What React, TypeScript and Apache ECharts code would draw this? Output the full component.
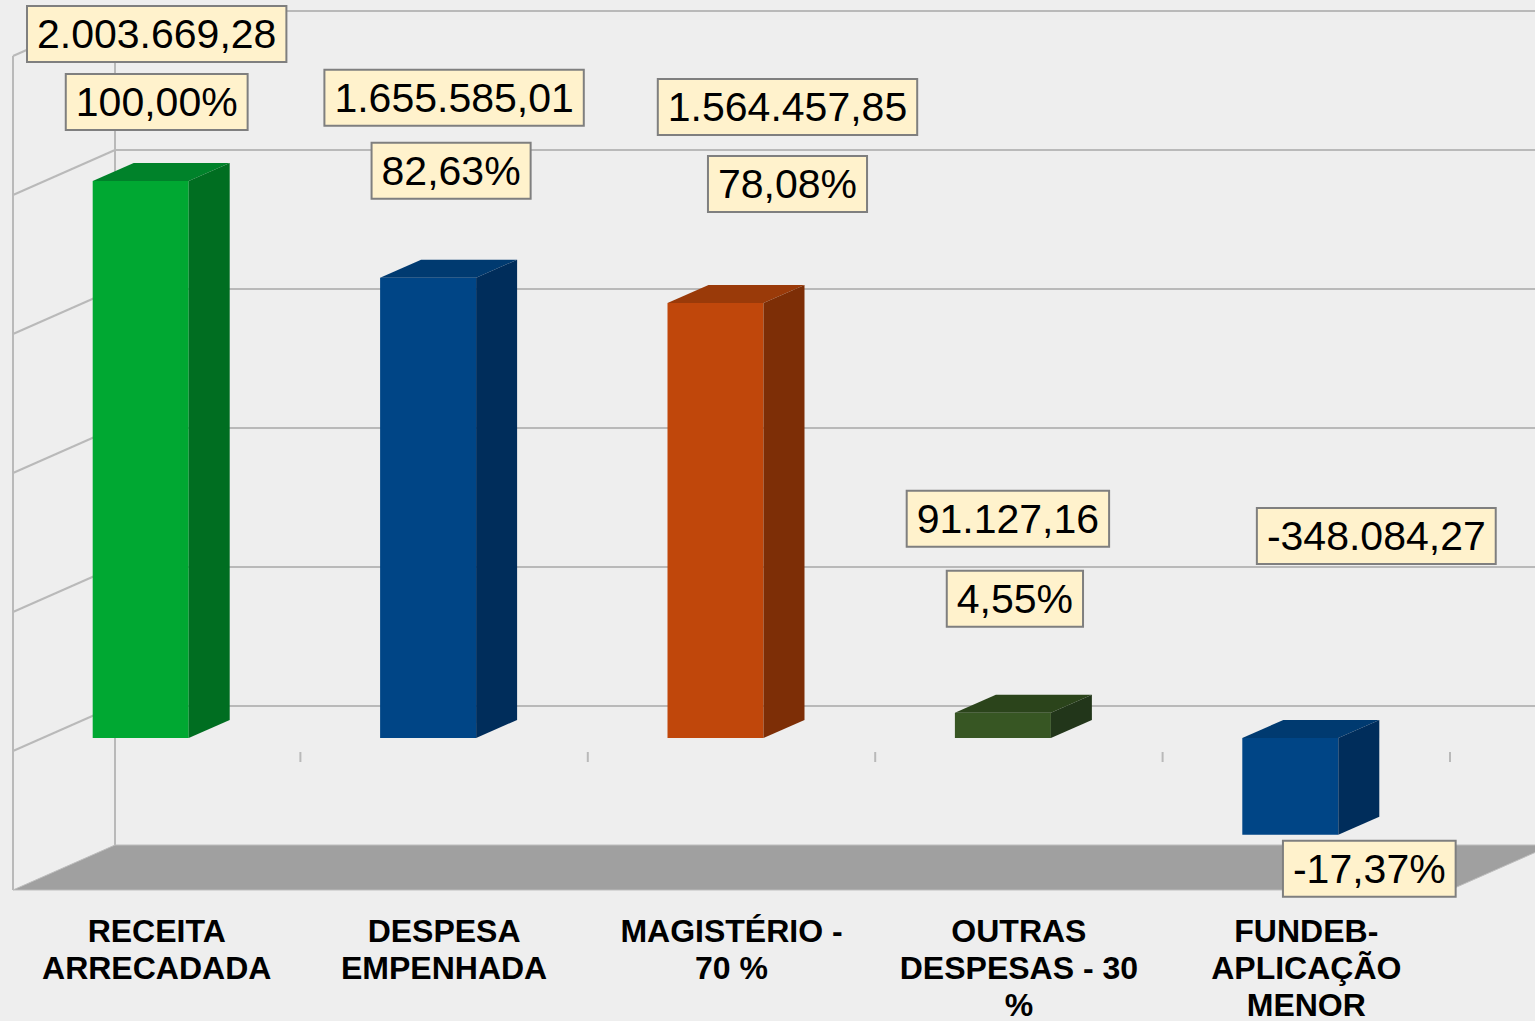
import { useEffect, useRef } from "react";
import * as echarts from "echarts";

// ---- data ----
const CATEGORIES = [
  "RECEITA\nARRECADADA",
  "DESPESA\nEMPENHADA",
  "MAGISTÉRIO -\n70 %",
  "OUTRAS\nDESPESAS - 30\n%",
  "FUNDEB-\nAPLICAÇÃO\nMENOR",
];
const VALUES = [2003669.28, 1655585.01, 1564457.85, 91127.16, -348084.27];
const PERCENTS = [100.0, 82.63, 78.08, 4.55, -17.37];
const Y_MIN = -500000;
const Y_MAX = 2500000;
const Y_STEP = 500000;

// ---- styles / layout ----
const FRONT_COLORS = ["#00a832", "#004586", "#c0470b", "#375623", "#004586"];
const TOP_COLORS = ["#00822a", "#003a70", "#9a3a09", "#2b441b", "#003a70"];
const SIDE_COLORS = ["#006e21", "#002d5b", "#7d2e06", "#22361a", "#002d5b"];
const BAR_W = 96;
const BAR_SHIFT_X = -16;
const BAR_SHIFT_Y = -13;
const BAR_DEPTH_X = 41;
const BAR_DEPTH_Y = -18;
const WALL_DX = 102;
const WALL_DY = -45;
// label box centre offsets (px) from bar front face centre / top (or bottom for negative pct)
const VALUE_LABEL_OFFSET = [
  [16, -147],
  [26, -180],
  [72, -196],
  [5, -194],
  [86, -202],
];
const PCT_LABEL_OFFSET = [
  [16, -79],
  [23, -107],
  [72, -119],
  [12, -114],
  [79, 34],
];

function fmtBR(v: number, d: number): string {
  const neg = v < 0;
  const s = Math.abs(v).toFixed(d);
  const [intPart, dec] = s.split(".");
  const intF = intPart.replace(/\B(?=(\d{3})+(?!\d))/g, ".");
  return (neg ? "-" : "") + intF + (dec ? "," + dec : "");
}

const labelStyle = {
  fill: "#000",
  fontSize: 41,
  fontFamily: "'Liberation Sans', Arial, sans-serif",
  align: "center",
  verticalAlign: "middle",
  backgroundColor: "#fff2cc",
  borderColor: "#7f7f7f",
  borderWidth: 2,
  padding: [6, 9, 6, 9],
  lineHeight: 42,
};

export default function App() {
  const ref = useRef<HTMLDivElement>(null);
  useEffect(() => {
    if (!ref.current) return;
    const chart = echarts.init(ref.current, undefined, { renderer: "svg" });
    const barData = VALUES.map((v, i) => [i, v]);
    chart.setOption({
      animation: false,
      backgroundColor: "#eeeeee",
      grid: {
        left: 13,
        right: 85,
        top: 56,
        bottom: 131,
        containLabel: false,
        outerBoundsMode: "none",
      },
      xAxis: {
        type: "category",
        data: CATEGORIES,
        axisLine: { show: false, onZero: false },
        axisTick: { show: false },
        splitLine: { show: false },
        axisLabel: {
          interval: 0,
          margin: 22,
          fontSize: 32,
          fontWeight: "bold",
          fontFamily: "'Liberation Sans', Arial, sans-serif",
          color: "#000",
          lineHeight: 37,
        },
      },
      yAxis: {
        type: "value",
        min: Y_MIN,
        max: Y_MAX,
        interval: Y_STEP,
        show: false,
        splitLine: { show: false },
      },
      series: [
        {
          type: "custom",
          name: "walls",
          clip: false,
          silent: true,
          z: 1,
          data: [[0, 0]],
          renderItem: (params: any, api: any) => {
            const band = api.size([1, 0])[0];
            const x0 = api.coord([0, 0])[0] - band / 2;
            const x1 = x0 + band * CATEGORIES.length;
            const y = (v: number) => api.coord([0, v])[1];
            const ls = { stroke: "#b9b9b9", lineWidth: 2 };
            const children: any[] = [];
            for (let v = 0; v <= Y_MAX; v += Y_STEP) {
              children.push({
                type: "line",
                shape: { x1: x0 + WALL_DX, y1: y(v) + WALL_DY, x2: x1 + WALL_DX + 40, y2: y(v) + WALL_DY },
                style: ls,
              });
              children.push({
                type: "line",
                shape: { x1: x0, y1: y(v), x2: x0 + WALL_DX, y2: y(v) + WALL_DY },
                style: ls,
              });
            }
            children.push({
              type: "line",
              shape: { x1: x0, y1: y(Y_MAX), x2: x0, y2: y(Y_MIN) },
              style: ls,
            });
            children.push({
              type: "line",
              shape: { x1: x0 + WALL_DX, y1: y(Y_MAX) + WALL_DY, x2: x0 + WALL_DX, y2: y(Y_MIN) + WALL_DY },
              style: ls,
            });
            children.push({
              type: "polygon",
              shape: {
                points: [
                  [x0, y(Y_MIN)],
                  [x1, y(Y_MIN)],
                  [x1 + WALL_DX, y(Y_MIN) + WALL_DY],
                  [x0 + WALL_DX, y(Y_MIN) + WALL_DY],
                ],
              },
              style: { fill: "#a0a0a0", stroke: "#bdbdbd", lineWidth: 1 },
            });
            for (let k = 1; k <= CATEGORIES.length; k++) {
              const tx = x0 + k * band;
              children.push({
                type: "line",
                shape: { x1: tx, y1: y(0) + 1, x2: tx, y2: y(0) + 11 },
                style: ls,
              });
            }
            return { type: "group", children };
          },
        },
        {
          type: "custom",
          name: "bars",
          clip: false,
          z: 2,
          data: barData,
          renderItem: (params: any, api: any) => {
            const i = params.dataIndex;
            const cat = api.value(0);
            const v = api.value(1);
            const pv = api.coord([cat, v]);
            const p0 = api.coord([cat, 0]);
            const cx = pv[0] + BAR_SHIFT_X;
            const top = Math.min(pv[1], p0[1]) + BAR_SHIFT_Y;
            const bot = Math.max(pv[1], p0[1]) + BAR_SHIFT_Y;
            const xl = cx - BAR_W / 2;
            const xr = cx + BAR_W / 2;
            return {
              type: "group",
              children: [
                {
                  type: "rect",
                  shape: { x: xl, y: top, width: BAR_W, height: bot - top },
                  style: { fill: FRONT_COLORS[i] },
                },
                {
                  type: "polygon",
                  shape: {
                    points: [
                      [xl, top],
                      [xr, top],
                      [xr + BAR_DEPTH_X, top + BAR_DEPTH_Y],
                      [xl + BAR_DEPTH_X, top + BAR_DEPTH_Y],
                    ],
                  },
                  style: { fill: TOP_COLORS[i] },
                },
                {
                  type: "polygon",
                  shape: {
                    points: [
                      [xr, top],
                      [xr + BAR_DEPTH_X, top + BAR_DEPTH_Y],
                      [xr + BAR_DEPTH_X, bot + BAR_DEPTH_Y],
                      [xr, bot],
                    ],
                  },
                  style: { fill: SIDE_COLORS[i] },
                },
              ],
            };
          },
        },
        {
          type: "custom",
          name: "labels",
          clip: false,
          z: 3,
          data: barData,
          renderItem: (params: any, api: any) => {
            const i = params.dataIndex;
            const cat = api.value(0);
            const v = api.value(1);
            const pv = api.coord([cat, v]);
            const p0 = api.coord([cat, 0]);
            const cx = pv[0] + BAR_SHIFT_X;
            const top = Math.min(pv[1], p0[1]) + BAR_SHIFT_Y;
            const bot = Math.max(pv[1], p0[1]) + BAR_SHIFT_Y;
            const vo = VALUE_LABEL_OFFSET[i];
            const po = PCT_LABEL_OFFSET[i];
            const pAnchor = v >= 0 ? top : bot;
            return {
              type: "group",
              children: [
                {
                  type: "text",
                  x: cx + vo[0],
                  y: top + vo[1],
                  style: { ...labelStyle, text: fmtBR(v, 2) },
                },
                {
                  type: "text",
                  x: cx + po[0],
                  y: pAnchor + po[1],
                  style: { ...labelStyle, text: fmtBR(PERCENTS[i], 2) + "%" },
                },
              ],
            };
          },
        },
      ],
    });
    return () => chart.dispose();
  }, []);
  return (
    <div
      ref={ref}
      style={{ position: "fixed", left: 0, top: 0, width: 1535, height: 1021 }}
    />
  );
}
